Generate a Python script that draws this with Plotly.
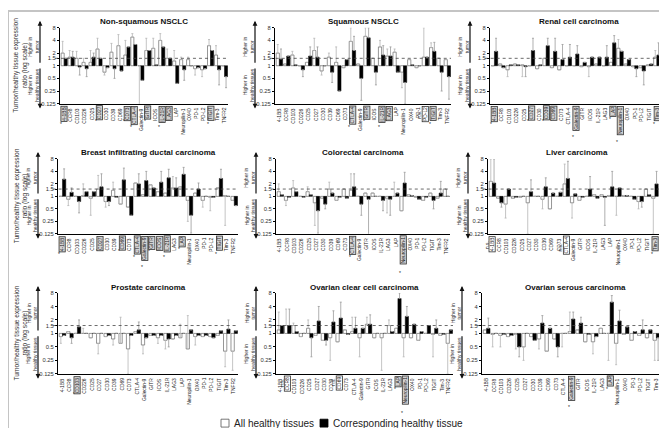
import math
import plotly.graph_objects as go

W, H = 667, 428

genes = ['4-1BB', 'CCR8', 'CD103', 'CD226', 'CD25', 'CD27', 'CD30', 'CD39', 'CD69', 'CD73',
         'CTLA-4', 'Galectin-9', 'GITR', 'ICOS', 'IL-21R', 'LAG3', 'LAP', 'Neuropilin-1',
         'OX40', 'PD-1', 'PD-L2', 'TIGIT', 'Tim-3', 'TNFR2']
tick_vals = [0.125, 0.25, 0.5, 1, 1.5, 2, 4, 8]
tick_text = ['0.125', '0.25', '0.5', '1', '1.5', '2', '4', '8']

titles = ['Non-squamous NSCLC', 'Squamous NSCLC', 'Renal cell carcinoma',
          'Breast infiltrating ductal carcinoma', 'Colorectal carcinoma', 'Liver carcinoma',
          'Prostate carcinoma', 'Ovarian clear cell carcinoma', 'Ovarian serous carcinoma']
legend_names = ['All healthy tissues', 'Corresponding healthy tissue']

# ratio values (white = all healthy tissues, black = corresponding healthy tissue)
# *_e = where the whisker ends
ns_all = [2.0, 1.6, 1.5, 1.2, 1.2, 2.5, 0.7, 2.1, 3.0, 1.8, 4.8, 1.0, 2.3, 2.6, 4.0, 1.5, 1.3, 1.4, 1.4, 0.85, 0.8, 3.0, 1.8, 1.0]
ns_all_e = [3.8, 2.3, 2.2, 1.5, 2.3, 4.5, 0.6, 3.4, 5.5, 4.0, 5.8, 0.12, 4.5, 4.5, 5.8, 2.5, 2.3, 1.6, 1.6, 0.6, 0.55, 4.2, 3.0, 1.0]
ns_cor = [1.5, 1.6, 0.93, 0.85, 1.6, 1.5, 0.9, 0.85, 0.75, 2.8, 3.2, 0.45, 2.3, 1.05, 2.8, 1.5, 0.38, 0.8, 1.0, 0.9, 0.85, 2.3, 0.8, 0.55]
ns_cor_e = [1.5, 2.2, 0.6, 0.55, 2.0, 1.5, 0.9, 0.5, 0.75, 2.8, 3.2, 0.45, 2.3, 1.05, 2.8, 1.5, 0.38, 0.45, 1.0, 0.9, 0.85, 2.3, 0.35, 0.3]

sq_all = [2.0, 1.1, 1.8, 1.0, 1.2, 2.3, 0.75, 1.6, 1.2, 0.9, 3.8, 1.1, 5.0, 1.5, 2.8, 1.7, 2.1, 0.7, 1.4, 0.9, 1.6, 2.7, 1.5, 1.4]
sq_all_e = [3.2, 1.1, 2.2, 1.0, 1.2, 4.5, 0.6, 2.0, 2.8, 0.9, 8.0, 1.1, 8.0, 1.5, 4.0, 2.5, 2.5, 0.3, 1.4, 0.9, 8.0, 3.5, 1.5, 1.4]
sq_cor = [1.45, 1.7, 1.05, 0.8, 1.7, 1.6, 1.0, 0.7, 0.25, 1.4, 2.3, 0.5, 4.6, 0.7, 1.8, 1.7, 0.7, 0.4, 1.05, 1.0, 1.6, 2.2, 0.7, 0.55]
sq_cor_e = [2.5, 1.7, 1.05, 0.55, 2.8, 2.8, 1.0, 0.4, 0.25, 1.4, 5.0, 0.15, 8.0, 0.35, 3.0, 2.8, 0.7, 0.125, 1.05, 1.0, 1.6, 3.6, 0.25, 0.16]

rcc_all = [1.0, 1.1, 0.8, 1.1, 1.05, 1.0, 0.85, 1.5, 0.9, 0.8, 1.0, 1.0, 0.95, 0.95, 1.1, 1.0, 1.2, 2.6, 1.1, 0.95, 0.9, 1.05, 1.6, 1.6]
rcc_all_e = [1.0, 1.1, 0.55, 1.1, 0.55, 1.0, 0.85, 1.5, 0.9, 0.8, 1.0, 1.0, 0.95, 0.55, 1.1, 1.0, 1.2, 4.2, 1.1, 0.95, 0.9, 1.05, 2.3, 1.6]
rcc_cor = [2.2, 0.9, 1.05, 1.05, 0.95, 2.3, 1.05, 3.0, 2.2, 1.4, 1.6, 1.9, 1.2, 1.6, 1.6, 1.6, 3.5, 2.2, 1.4, 0.85, 0.75, 1.1, 1.8, 2.8]
rcc_cor_e = [4.5, 0.9, 1.05, 1.05, 0.55, 4.5, 1.05, 4.5, 4.5, 3.2, 3.2, 3.0, 1.2, 1.6, 1.6, 3.0, 5.2, 2.2, 1.4, 0.55, 0.35, 1.1, 3.5, 4.5]

br_all = [1.0, 0.85, 1.0, 1.05, 0.9, 1.5, 0.75, 1.4, 0.65, 0.55, 2.1, 1.1, 1.9, 1.3, 1.2, 1.6, 1.7, 0.8, 1.2, 0.8, 0.95, 1.6, 1.05, 0.8]
br_all_e = [1.0, 0.6, 1.0, 2.0, 0.35, 3.2, 0.55, 2.2, 0.65, 0.55, 2.1, 1.1, 1.9, 1.3, 1.2, 3.0, 1.7, 0.25, 1.2, 0.55, 0.45, 1.6, 0.2, 0.8]
br_cor = [2.6, 1.25, 0.75, 1.3, 1.3, 1.7, 0.75, 0.95, 2.5, 0.35, 2.0, 2.4, 1.6, 2.2, 2.8, 1.6, 3.4, 0.35, 1.5, 1.0, 0.95, 2.7, 1.0, 0.6]
br_cor_e = [4.6, 1.6, 0.4, 1.3, 1.3, 3.5, 0.6, 0.95, 4.8, 0.35, 3.5, 4.0, 1.6, 4.0, 4.5, 2.8, 5.0, 0.13, 2.1, 1.0, 0.95, 4.5, 1.0, 0.6]

crc_all = [1.3, 0.8, 1.6, 1.0, 1.3, 0.7, 0.9, 1.5, 0.8, 1.5, 1.4, 1.0, 1.2, 1.2, 1.0, 0.9, 1.0, 0.45, 1.1, 0.95, 0.8, 1.2, 0.9, 1.5]
crc_all_e = [2.0, 0.6, 2.4, 1.0, 1.7, 0.2, 0.9, 2.2, 0.8, 1.5, 3.5, 1.0, 1.2, 1.2, 1.0, 0.4, 2.2, 0.45, 1.1, 0.95, 0.8, 1.2, 0.9, 1.5]
crc_cor = [1.1, 0.95, 1.3, 0.95, 1.1, 0.45, 0.65, 1.2, 0.95, 0.9, 1.7, 0.65, 0.85, 1.0, 0.8, 0.85, 1.2, 2.1, 1.05, 0.85, 0.95, 0.8, 1.2, 1.0]
crc_cor_e = [1.1, 0.95, 1.3, 0.95, 1.1, 0.13, 0.5, 1.2, 0.95, 0.9, 3.5, 0.35, 0.12, 1.0, 0.45, 0.35, 1.2, 3.8, 1.05, 0.85, 0.95, 0.5, 2.3, 1.0]

liv_all = [2.3, 0.9, 0.65, 0.9, 0.95, 0.7, 1.0, 0.85, 0.5, 1.0, 2.0, 0.7, 0.8, 1.0, 1.1, 1.1, 1.05, 1.0, 1.05, 1.0, 0.75, 1.5, 0.9, 1.4]
liv_all_e = [8.0, 0.9, 0.3, 0.9, 0.95, 0.125, 1.0, 0.5, 0.5, 1.0, 6.0, 0.3, 0.8, 1.0, 1.1, 1.1, 1.05, 0.35, 1.05, 1.0, 0.5, 1.5, 0.125, 1.4]
liv_cor = [2.1, 0.7, 1.5, 0.95, 1.0, 1.3, 1.0, 1.7, 1.2, 1.25, 2.7, 1.15, 0.95, 1.5, 0.9, 0.95, 1.7, 1.6, 1.05, 0.85, 0.75, 1.1, 2.0, 1.05]
liv_cor_e = [8.0, 0.55, 1.5, 0.95, 1.0, 2.5, 1.0, 2.8, 1.2, 1.25, 7.0, 1.15, 0.95, 3.0, 0.9, 0.2, 4.0, 1.6, 1.05, 0.85, 0.55, 1.1, 4.0, 1.05]

pro_all = [0.85, 1.1, 1.0, 1.0, 0.8, 0.6, 0.85, 0.75, 0.6, 0.45, 1.1, 0.55, 0.9, 0.8, 0.7, 0.75, 0.8, 0.45, 0.85, 0.85, 0.85, 0.9, 0.4, 0.4]
pro_all_e = [0.6, 1.1, 1.0, 1.3, 0.8, 0.35, 0.85, 0.55, 2.3, 0.125, 1.1, 0.35, 0.9, 0.6, 0.45, 0.75, 1.6, 2.5, 0.55, 0.85, 0.85, 0.9, 0.18, 0.15]
pro_cor = [0.9, 0.8, 1.4, 1.0, 1.0, 1.0, 0.9, 1.0, 1.0, 0.9, 1.2, 0.8, 0.9, 0.9, 0.75, 0.9, 1.0, 1.2, 0.9, 0.9, 0.8, 1.15, 1.25, 1.15]
pro_cor_e = [0.9, 0.6, 2.0, 1.0, 1.0, 1.0, 0.9, 1.0, 1.0, 0.9, 1.8, 0.8, 0.9, 0.9, 0.5, 0.9, 1.0, 1.2, 0.9, 0.9, 0.8, 1.15, 2.0, 1.15]

occ_all = [1.2, 1.5, 1.5, 0.85, 1.3, 0.9, 0.7, 0.8, 0.65, 1.2, 1.1, 0.8, 1.6, 0.8, 0.8, 1.5, 1.3, 0.8, 0.8, 0.7, 1.0, 0.95, 0.9, 0.6]
occ_all_e = [3.0, 3.5, 1.7, 0.85, 2.0, 0.9, 0.7, 0.25, 0.65, 1.2, 2.3, 0.3, 2.3, 0.8, 0.15, 2.0, 1.3, 0.3, 0.8, 0.7, 1.0, 0.3, 0.9, 0.125]
occ_cor = [1.5, 1.5, 1.1, 1.0, 0.8, 1.9, 0.7, 1.8, 2.2, 0.95, 1.3, 1.3, 1.6, 1.0, 1.0, 1.1, 6.0, 2.4, 1.6, 1.1, 1.5, 1.3, 0.95, 1.2]
occ_cor_e = [1.5, 3.5, 1.1, 1.0, 0.3, 4.0, 0.55, 3.2, 5.0, 0.95, 2.3, 1.3, 2.6, 1.0, 1.0, 1.1, 8.0, 4.0, 1.6, 1.1, 1.5, 2.0, 0.95, 1.2]

ose_all = [1.2, 0.95, 0.9, 0.85, 0.95, 0.5, 0.85, 0.75, 0.4, 0.75, 1.0, 1.1, 1.2, 0.65, 0.65, 1.3, 1.0, 0.6, 0.95, 0.7, 0.9, 0.8, 0.7, 0.55]
ose_all_e = [1.2, 0.5, 0.5, 0.85, 0.45, 0.25, 0.85, 0.45, 0.4, 0.75, 0.5, 3.0, 1.2, 0.65, 0.35, 1.3, 0.25, 0.2, 0.95, 0.7, 0.9, 0.8, 0.25, 0.25]
ose_cor = [1.3, 1.0, 0.95, 0.9, 0.5, 1.0, 0.7, 1.7, 1.3, 0.5, 1.0, 2.1, 1.7, 0.95, 0.85, 1.0, 5.0, 1.9, 1.4, 1.1, 1.2, 1.2, 0.8, 1.2]
ose_cor_e = [2.2, 1.0, 0.95, 0.9, 0.3, 1.0, 0.7, 2.5, 1.3, 0.3, 1.0, 3.0, 2.3, 0.95, 0.85, 1.0, 7.0, 3.3, 1.4, 1.1, 2.0, 1.2, 0.25, 2.0]

# boxed tick labels per panel: '*' = grey box with asterisk, 'ns' = open box with n.s.
boxed = [
    {'4-1BB': '*', 'CD27': '*', 'CD73': '*', 'CTLA-4': '*', 'GITR': '*', 'IL-21R': '*', 'LAG3': '*', 'TIGIT': '*'},
    {'CTLA-4': '*', 'GITR': '*', 'IL-21R': '*', 'LAG3': '*', 'PD-L2': 'ns', 'TIGIT': '*'},
    {'4-1BB': '*', 'CD27': '*', 'CD39': '*', 'CD69': '*', 'Galectin-9': '*', 'LAP': '*', 'Neuropilin-1': '*', 'Tim-3': '*', 'TNFR2': '*'},
    {'4-1BB': '*', 'CD27': '*', 'CD69': '*', 'CTLA-4': '*', 'Galectin-9': '*', 'GITR': '*', 'ICOS': '*', 'IL-21R': '*', 'LAP': '*', 'TIGIT': '*'},
    {'CTLA-4': '*', 'Neuropilin-1': '*'},
    {'4-1BB': 'ns', 'CTLA-4': 'ns', 'Tim-3': '*'},
    {'CD103': '*'},
    {'CCR8': 'ns', 'CD69': 'ns', 'LAP': '*', 'Neuropilin-1': '*'},
    {'Galectin-9': '*', 'LAP': '*'},
]

series = [
    (ns_all, ns_all_e, ns_cor, ns_cor_e),
    (sq_all, sq_all_e, sq_cor, sq_cor_e),
    (rcc_all, rcc_all_e, rcc_cor, rcc_cor_e),
    (br_all, br_all_e, br_cor, br_cor_e),
    (crc_all, crc_all_e, crc_cor, crc_cor_e),
    (liv_all, liv_all_e, liv_cor, liv_cor_e),
    (pro_all, pro_all_e, pro_cor, pro_cor_e),
    (occ_all, occ_all_e, occ_cor, occ_cor_e),
    (ose_all, ose_all_e, ose_cor, ose_cor_e),
]

# plot areas in pixels: left, right, top, bottom
boxes_px = [
    (52, 220, 17, 94), (267, 443, 17, 94), (482, 660, 17, 94),
    (50, 230, 150, 226), (268, 442, 150, 226), (480, 658, 150, 226),
    (50, 230, 286, 368), (268, 445, 286, 368), (474, 660, 286, 368),
]

FONT = 'Arial, Liberation Sans, sans-serif'


def whiskers(vals, ends):
    up = [max(e - v, 0) for v, e in zip(vals, ends)]
    dn = [max(v - e, 0) for v, e in zip(vals, ends)]
    return up, dn


fig = go.Figure()
layout = dict(
    width=W, height=H, margin=dict(l=0, r=0, t=0, b=0),
    paper_bgcolor='white', plot_bgcolor='white',
    barmode='group', bargap=0.12, bargroupgap=0,
    font=dict(family=FONT, size=7, color='#222'),
    showlegend=False,
)
annots = []
shapes = [dict(type='rect', xref='paper', yref='paper', x0=0, x1=1, y0=0, y1=1,
               line=dict(color='#c4c4c4', width=2))]

for k in range(9):
    n = '' if k == 0 else str(k + 1)
    xa, ya = 'x' + n, 'y' + n
    a, ae, c, ce = series[k]
    l, r, t, b = boxes_px[k]

    up, dn = whiskers(a, ae)
    fig.add_trace(go.Bar(
        x=genes, y=[v - 1 for v in a], base=1, xaxis=xa, yaxis=ya,
        name=legend_names[0], offsetgroup='a',
        marker=dict(color='white', line=dict(color='#6a6a6a', width=0.7)),
        error_y=dict(type='data', symmetric=False, array=up, arrayminus=dn,
                     color='#b5b5b5', thickness=0.8, width=1),
    ))
    up, dn = whiskers(c, ce)
    fig.add_trace(go.Bar(
        x=genes, y=[v - 1 for v in c], base=1, xaxis=xa, yaxis=ya,
        name=legend_names[1], offsetgroup='c',
        marker=dict(color='black', line=dict(color='black', width=0.5)),
        error_y=dict(type='data', symmetric=False, array=up, arrayminus=dn,
                     color='#9a9a9a', thickness=0.8, width=1),
    ))

    layout['xaxis' + n] = dict(domain=[l / W, r / W], anchor=ya, showticklabels=False,
                               showline=True, linecolor='black', linewidth=1,
                               range=[-0.6, 23.5], showgrid=False, zeroline=False)
    layout['yaxis' + n] = dict(domain=[1 - b / H, 1 - t / H], anchor=xa, type='log',
                               range=[math.log10(0.125), math.log10(8)],
                               tickvals=tick_vals, ticktext=tick_text,
                               tickfont=dict(size=5.8, color='#333'),
                               ticks='outside', ticklen=2, tickcolor='black',
                               showline=True, linecolor='black', linewidth=1,
                               showgrid=False, zeroline=False)

    # dashed reference line at 1.5
    shapes.append(dict(type='line', xref=xa + ' domain', yref=ya, x0=-0.03, x1=1, y0=1.5, y1=1.5,
                       line=dict(color='#444', width=0.8, dash='dot')))

    # panel title
    annots.append(dict(text='<b>' + titles[k] + '</b>', xref='paper', yref='paper',
                       x=(l + r) / 2 / W, y=1 - (t - 6) / H, showarrow=False,
                       xanchor='center', yanchor='middle', font=dict(size=8, color='#111')))

    # category labels (some boxed)
    for g in genes:
        kind = boxed[k].get(g)
        ann = dict(text=g, xref=xa, yref=ya + ' domain', x=g, y=0, yshift=-2,
                   xanchor='center', yanchor='top', textangle=-90, showarrow=False,
                   font=dict(size=4.9, color='#222'))
        blen = len(g) * 2.65 + 3
        if kind:
            ann.update(bordercolor='#333', borderwidth=0.8, borderpad=0.3,
                       bgcolor='#d2d2d2' if kind == '*' else 'white')
            if kind == '*':
                annots.append(dict(text='*', xref=xa, yref=ya + ' domain', x=g, y=0,
                                   yshift=-(blen - 1), xshift=-3, xanchor='center', yanchor='top',
                                   showarrow=False, font=dict(size=5, color='#222')))
            else:
                annots.append(dict(text='n.s.', xref=xa, yref=ya + ' domain', x=g, y=0,
                                   yshift=-(blen + 1), xshift=-5.5, xanchor='center', yanchor='bottom',
                                   textangle=-90, showarrow=False, font=dict(size=4.8, color='#222')))
        annots.append(ann)

    # arrows with "higher in" labels
    ax_px = l - 20
    y1_px = t + 0.5 * (b - t)
    annots.append(dict(x=ax_px / W, y=1 - (t - 7) / H, xref='paper', yref='paper',
                       ax=0, ay=(y1_px - 2) - (t - 7), text='', showarrow=True,
                       arrowhead=2, arrowsize=0.8, arrowwidth=1.2, arrowcolor='#111'))
    annots.append(dict(x=ax_px / W, y=1 - (b + 5) / H, xref='paper', yref='paper',
                       ax=0, ay=(y1_px + 2) - (b + 5), text='', showarrow=True,
                       arrowhead=2, arrowsize=0.8, arrowwidth=1.2, arrowcolor='#111'))
    annots.append(dict(text='Higher in<br>tumor', xref='paper', yref='paper',
                       x=(ax_px - 6) / W, y=1 - ((t + y1_px) / 2) / H, textangle=-90,
                       showarrow=False, xanchor='center', yanchor='middle',
                       font=dict(size=5, color='#333')))
    annots.append(dict(text='Higher in<br>healthy tissues', xref='paper', yref='paper',
                       x=(ax_px - 6) / W, y=1 - ((b + y1_px) / 2) / H, textangle=-90,
                       showarrow=False, xanchor='center', yanchor='middle',
                       font=dict(size=5, color='#333')))
    if k % 3 == 0:
        annots.append(dict(text='Tumor/healthy tissue expression<br>ratio (log scale)',
                           xref='paper', yref='paper', x=13 / W, y=1 - ((t + b) / 2) / H,
                           textangle=-90, showarrow=False, xanchor='center', yanchor='middle',
                           font=dict(size=6.6, color='#333')))

# legend drawn by hand, centred under the grid
leg_y = 418
shapes.append(dict(type='rect', xref='paper', yref='paper', x0=213 / W, x1=221 / W,
                   y0=1 - (leg_y + 4) / H, y1=1 - (leg_y - 4) / H,
                   fillcolor='white', line=dict(color='#555', width=0.8)))
shapes.append(dict(type='rect', xref='paper', yref='paper', x0=312 / W, x1=320 / W,
                   y0=1 - (leg_y + 4) / H, y1=1 - (leg_y - 4) / H,
                   fillcolor='black', line=dict(color='black', width=0.8)))
annots.append(dict(text=legend_names[0], xref='paper', yref='paper', x=224 / W, y=1 - leg_y / H,
                   xanchor='left', yanchor='middle', showarrow=False,
                   font=dict(size=10, color='#222')))
annots.append(dict(text=legend_names[1], xref='paper', yref='paper', x=323 / W, y=1 - leg_y / H,
                   xanchor='left', yanchor='middle', showarrow=False,
                   font=dict(size=10, color='#222')))

layout['annotations'] = annots
layout['shapes'] = shapes
fig.update_layout(**layout)
fig.write_html('out.html')
